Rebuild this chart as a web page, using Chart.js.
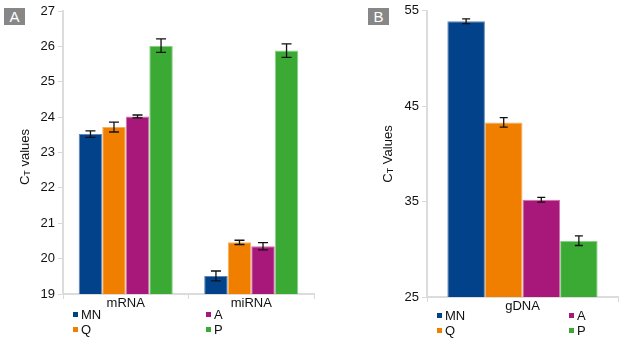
<!DOCTYPE html>
<html>
<head>
<meta charset="utf-8">
<script src="https://cdn.jsdelivr.net/npm/chart.js@4.4.0/dist/chart.umd.min.js"></script>
<style>
  body { margin: 0; background: #fff; font-family: "Liberation Sans", Arial, sans-serif; }
  #wrap { position: relative; width: 633px; height: 339px; overflow: hidden; }
  .panel { position: absolute; top: 0; height: 339px; }
  .badge { position: absolute; top: 8px; width: 21px; height: 17px; background: #878787; color: #fff;
           font-size: 15px; line-height: 17px; text-align: center; }
  .legend { position: absolute; font-size: 13px; color: #111; }
  .legend .item { position: absolute; white-space: nowrap; line-height: 14px; }
  .legend .sw { display: inline-block; width: 5px; height: 5px; margin-right: 3px; vertical-align: 2px; }
</style>
</head>
<body>
<div id="wrap">
  <div class="panel" style="left:0;width:330px"><canvas id="chartA"></canvas></div>
  <div class="panel" style="left:360px;width:273px"><canvas id="chartB"></canvas></div>
  <div class="badge" style="left:4px">A</div>
  <div class="badge" style="left:368px">B</div>
  <div class="legend" id="legendA"></div>
  <div class="legend" id="legendB"></div>
</div>
<script>
// series names and colours
const seriesNames = ['MN', 'Q', 'A', 'P'];
const seriesColors = ['#02428a', '#f07f00', '#a8187a', '#3aaa35'];
const seriesEdges = ['#5f86b8', '#f6b060', '#cf6fae', '#8fd08a'];

// Panel A: mRNA / miRNA
const categoriesA = ['mRNA', 'miRNA'];
const mnA = [23.52, 19.51];
const qA = [23.72, 20.46];
const aA = [24.02, 20.35];
const pA = [26.02, 25.88];
const mnErrA = [0.09, 0.14];
const qErrA = [0.14, 0.06];
const aErrA = [0.04, 0.10];
const pErrA = [0.19, 0.19];
const ticksA = [19, 20, 21, 22, 23, 24, 25, 26, 27];

// Panel B: gDNA
const categoriesB = ['gDNA'];
const mnB = [53.9];
const qB = [43.3];
const aB = [35.2];
const pB = [30.9];
const mnErrB = [0.25];
const qErrB = [0.5];
const aErrB = [0.25];
const pErrB = [0.5];
const ticksB = [25, 35, 45, 55];

const FONT = '"Liberation Sans", Arial, sans-serif';

// error bars drawn on top of each bar
const errorBars = {
    id: 'errorBars',
    afterDatasetsDraw(chart, args, opts) {
        const ctx = chart.ctx;
        const y = chart.scales.y;
        ctx.save();
        ctx.strokeStyle = '#111';
        ctx.lineWidth = 1.3;
        chart.data.datasets.forEach((ds, i) => {
            const meta = chart.getDatasetMeta(i);
            meta.data.forEach((bar, j) => {
                const v = ds.data[j], e = ds.errors[j];
                const y1 = y.getPixelForValue(v + e);
                const y2 = y.getPixelForValue(v - e);
                const w = opts.cap;
                ctx.beginPath();
                ctx.moveTo(bar.x, y1); ctx.lineTo(bar.x, y2);
                ctx.moveTo(bar.x - w, y1); ctx.lineTo(bar.x + w, y1);
                ctx.moveTo(bar.x - w, y2); ctx.lineTo(bar.x + w, y2);
                ctx.stroke();
            });
        });
        ctx.restore();
    }
};

// rotated y title with subscript T
const yTitle = {
    id: 'yTitle',
    afterDraw(chart, args, opts) {
        const ctx = chart.ctx;
        ctx.save();
        ctx.translate(opts.x, opts.y);
        ctx.rotate(-Math.PI / 2);
        ctx.fillStyle = '#111';
        ctx.textBaseline = 'middle';
        ctx.textAlign = 'left';
        const big = '13px ' + FONT, small = '9px ' + FONT;
        ctx.font = big; const wC = ctx.measureText('C').width;
        const wRest = ctx.measureText(' ' + opts.rest).width;
        ctx.font = small; const wT = ctx.measureText('T').width;
        let x = -(wC + wT + wRest) / 2;
        ctx.font = big; ctx.fillText('C', x, 0); x += wC;
        ctx.font = small; ctx.fillText('T', x, 3); x += wT;
        ctx.font = big; ctx.fillText(' ' + opts.rest, x, 0);
        ctx.restore();
    }
};

function makeDatasets(vals, errs, catPct) {
    return seriesNames.map((name, i) => ({
        label: name,
        data: vals[i],
        errors: errs[i],
        backgroundColor: seriesColors[i],
        borderColor: seriesEdges[i],
        borderWidth: 1,
        categoryPercentage: catPct,
        barPercentage: 1.0
    }));
}

function makeChart(id, labels, datasets, tickVals, layout) {
    return new Chart(document.getElementById(id), {
        type: 'bar',
        data: { labels: labels, datasets: datasets },
        options: {
            responsive: true,
            maintainAspectRatio: false,
            animation: false,
            layout: { padding: { top: layout.top, right: layout.right, left: 0, bottom: 0 } },
            plugins: {
                legend: { display: false },
                tooltip: { enabled: false },
                errorBars: { cap: layout.cap },
                yTitle: { x: layout.titleX, y: layout.titleY, rest: layout.titleRest }
            },
            scales: {
                x: {
                    grid: { drawOnChartArea: false, color: '#d9d9d9', tickLength: 5, lineWidth: 1 },
                    border: { color: '#dcdcdc', width: 2 },
                    ticks: { color: '#111', font: { family: FONT, size: 13 }, padding: -3 },
                    afterFit(scale) { scale.height = layout.xHeight; }
                },
                y: {
                    min: tickVals[0],
                    max: tickVals[tickVals.length - 1],
                    afterBuildTicks(scale) { scale.ticks = tickVals.map(v => ({ value: v })); },
                    grid: { drawOnChartArea: false, color: '#d9d9d9', tickLength: 5 },
                    border: { color: '#dcdcdc', width: 2 },
                    ticks: { color: '#111', font: { family: FONT, size: 13 }, padding: 3 },
                    afterFit(scale) { scale.width = layout.yWidth; }
                }
            }
        },
        plugins: [errorBars, yTitle]
    });
}

makeChart('chartA', categoriesA,
    makeDatasets([mnA, qA, aA, pA], [mnErrA, qErrA, aErrA, pErrA], 0.75),
    ticksA,
    { top: 11, right: 16, xHeight: 45, yWidth: 63, cap: 5, titleX: 25, titleY: 157, titleRest: 'values' });

makeChart('chartB', categoriesB,
    makeDatasets([mnB, qB, aB, pB], [mnErrB, qErrB, aErrB, pErrB], 0.787),
    ticksB,
    { top: 9, right: 15, xHeight: 42, yWidth: 67, cap: 4, titleX: 28, titleY: 154, titleRest: 'Values' });

// legends: two columns, MN/Q left, A/P right
function buildLegend(id, left, top, colGap) {
    const el = document.getElementById(id);
    el.style.left = left + 'px';
    el.style.top = top + 'px';
    seriesNames.forEach((name, i) => {
        const item = document.createElement('div');
        item.className = 'item';
        item.style.left = (i < 2 ? 0 : colGap) + 'px';
        item.style.top = (i % 2) * 15 + 'px';
        item.innerHTML = '<span class="sw" style="background:' + seriesColors[i] + '"></span>' + name;
        el.appendChild(item);
    });
}
// order: MN, Q, A, P -> MN/Q in first column, A/P in second
buildLegend('legendA', 73, 308, 133);
buildLegend('legendB', 437, 309, 132);
</script>
</body>
</html>
